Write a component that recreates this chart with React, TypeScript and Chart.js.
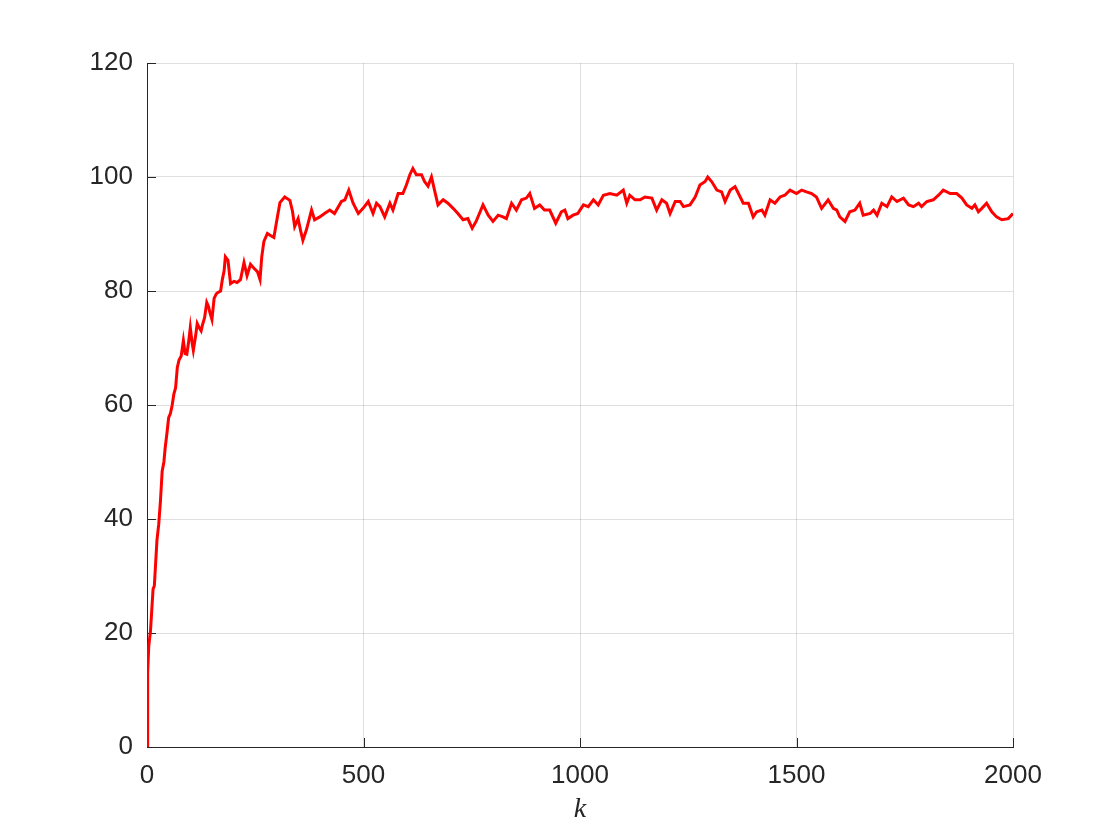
import React, { useEffect, useRef } from "react";
import { Chart, registerables } from "chart.js";

Chart.register(...registerables);

const kValues: number[] = [
  0, 1, 2, 4, 6, 8, 11, 14, 17, 19, 23, 27, 31, 35, 39, 42, 46, 50, 54, 58, 62, 66, 70, 74, 79, 84, 88, 92, 96,
  100, 104, 107, 112, 116, 121, 125, 128, 133, 138, 142, 145, 150, 155, 160, 163, 170, 174, 178, 181, 187, 193,
  201, 208, 216, 224, 231, 239, 247, 255, 261, 265, 270, 278, 286, 293, 300, 307, 318, 330, 336, 341, 349, 355,
  360, 368, 380, 387, 399, 410, 422, 433, 449, 457, 466, 476, 488, 499, 511, 522, 530, 538, 549, 561, 568, 580,
  591, 599, 607, 614, 622, 634, 641, 649, 657, 664, 672, 684, 695, 707, 718, 730, 741, 751, 760, 776, 788, 799,
  811, 822, 830, 842, 853, 865, 876, 884, 895, 907, 918, 930, 944, 957, 965, 972, 984, 995, 1000, 1008, 1019,
  1031, 1042, 1054, 1069, 1085, 1100, 1108, 1115, 1127, 1139, 1150, 1166, 1177, 1189, 1200, 1208, 1220, 1231,
  1239, 1254, 1266, 1277, 1289, 1295, 1304, 1316, 1327, 1335, 1347, 1358, 1366, 1377, 1389, 1400, 1408, 1420,
  1427, 1439, 1450, 1462, 1473, 1485, 1500, 1512, 1523, 1535, 1546, 1558, 1573, 1585, 1593, 1600, 1612, 1623,
  1635, 1646, 1654, 1670, 1678, 1686, 1697, 1709, 1720, 1732, 1747, 1759, 1770, 1782, 1789, 1801, 1816, 1828,
  1839, 1855, 1870, 1882, 1893, 1905, 1912, 1920, 1928, 1939, 1951, 1962, 1974, 1989, 2000,
];

const seriesValues: number[] = [
  0, 8, 13, 17.6, 19, 20.3, 24, 27.7, 28.3, 31, 36.3, 39, 43.1, 48.4, 50, 52.5, 55, 57.8, 58.5, 59.9, 61.9, 63,
  66.6, 67.9, 68.6, 71.3, 69, 68.9, 71, 73.6, 71, 69.6, 72, 74.3, 73.5, 73.0, 74, 75.3, 78.0, 77.3, 76.3, 75.0,
  78.7, 79.5, 79.7, 80.0, 82.0, 83.5, 86.0, 85.4, 81.3, 81.7, 81.5, 82.0, 85.0, 82.7, 84.7, 84.0, 83.4, 82.0, 86,
  88.7, 90.1, 89.7, 89.4, 92.5, 95.5, 96.5, 95.9, 94, 91.3, 92.7, 90.5, 88.9, 90.7, 94.2, 92.5, 93.0, 93.6, 94.2,
  93.6, 95.7, 96.0, 97.7, 95.4, 93.6, 94.5, 95.7, 93.6, 95.4, 94.8, 93.0, 95.4, 94.2, 97.1, 97.1, 98.6, 100.4,
  101.5, 100.4, 100.4, 99.2, 98.4, 100.0, 97.7, 95.1, 96.0, 95.4, 94.5, 93.6, 92.5, 92.7, 91.0, 92.2, 95.1, 93.3,
  92.2, 93.3, 93.0, 92.7, 95.4, 94.2, 96.0, 96.3, 97.1, 94.5, 95.1, 94.2, 94.2, 91.9, 93.9, 94.2, 92.7, 93.3, 93.6,
  94.2, 95.1, 94.8, 96.0, 95.1, 96.8, 97.1, 96.8, 97.7, 95.4, 96.8, 96.0, 96.0, 96.5, 96.3, 94.2, 96.0, 95.4, 93.6,
  95.7, 95.7, 94.8, 95.1, 96.5, 98.6, 99.2, 100.0, 99.2, 97.7, 97.4, 95.7, 97.7, 98.3, 97.1, 95.4, 95.4, 93.0,
  93.9, 94.2, 93.3, 96.0, 95.4, 96.5, 96.8, 97.7, 97.1, 97.7, 97.4, 97.1, 96.5, 94.5, 96.0, 94.5, 94.2, 93.0, 92.2,
  93.9, 94.2, 95.4, 93.3, 93.6, 94.2, 93.3, 95.4, 94.8, 96.5, 95.7, 96.3, 95.1, 94.8, 95.4, 94.8, 95.7, 96.0, 96.8,
  97.7, 97.1, 97.1, 96.3, 95.1, 94.5, 95.1, 93.9, 94.5, 95.4, 93.9, 93.0, 92.5, 92.7, 93.6,
];

const xTickValues: number[] = [0, 500, 1000, 1500, 2000];
const yTickValues: number[] = [0, 20, 40, 60, 80, 100, 120];
const xAxisTitle = "k";

const AXIS_COLOR = "#262626";
const GRID_COLOR = "rgba(38,38,38,0.15)";
const TICK_FONT = { family: "'Liberation Sans', Arial, sans-serif", size: 26 };

const inwardTicks = {
  id: "inwardTicks",
  beforeDatasetsDraw(chart: any) {
    const { ctx, chartArea, scales } = chart;
    const len = 9;
    ctx.save();
    ctx.strokeStyle = AXIS_COLOR;
    ctx.lineWidth = 1;
    ctx.beginPath();
    for (const v of yTickValues) {
      const y = Math.round(scales.y.getPixelForValue(v)) + 0.5;
      ctx.moveTo(chartArea.left, y);
      ctx.lineTo(chartArea.left + len, y);
    }
    for (const v of xTickValues) {
      const x = Math.round(scales.x.getPixelForValue(v)) + 0.5;
      ctx.moveTo(x, chartArea.bottom);
      ctx.lineTo(x, chartArea.bottom - len);
    }
    ctx.stroke();
    ctx.restore();
  },
};

export default function App() {
  const canvasRef = useRef<HTMLCanvasElement | null>(null);

  useEffect(() => {
    if (!canvasRef.current) return;
    const points = kValues.map((k, i) => ({ x: k, y: seriesValues[i] }));
    const chart = new Chart(canvasRef.current, {
      type: "line",
      data: {
        datasets: [
          {
            data: points,
            borderColor: "#ff0000",
            borderWidth: 3,
            pointRadius: 0,
            tension: 0,
            fill: false,
          },
        ],
      },
      options: {
        responsive: false,
        animation: false,
        events: [],
        layout: { padding: { left: 0, top: 63, right: 107, bottom: 0 } },
        plugins: {
          legend: { display: false },
          tooltip: { enabled: false },
        },
        scales: {
          x: {
            type: "linear",
            min: 0,
            max: 2000,
            afterFit: (scale: any) => {
              scale.height = 93;
            },
            afterBuildTicks: (scale: any) => {
              scale.ticks = xTickValues.map((v) => ({ value: v }));
            },
            ticks: {
              padding: 13,
              color: AXIS_COLOR,
              font: TICK_FONT,
              maxRotation: 0,
              callback: (v: any) => String(v),
            },
            grid: { color: GRID_COLOR, lineWidth: 1, drawTicks: false },
            border: { display: true, color: AXIS_COLOR, width: 1 },
            title: {
              display: true,
              text: xAxisTitle,
              color: AXIS_COLOR,
              font: { family: "'Liberation Serif', 'Times New Roman', serif", size: 28, style: "italic" },
              padding: { top: 0, bottom: 14 },
            },
          },
          y: {
            type: "linear",
            min: 0,
            max: 120,
            afterFit: (scale: any) => {
              scale.width = 147;
            },
            afterBuildTicks: (scale: any) => {
              scale.ticks = yTickValues.map((v) => ({ value: v }));
            },
            ticks: {
              padding: 14,
              color: AXIS_COLOR,
              font: TICK_FONT,
              callback: (v: any) => String(v),
            },
            grid: { color: GRID_COLOR, lineWidth: 1, drawTicks: false },
            border: { display: true, color: AXIS_COLOR, width: 1 },
          },
        },
      },
      plugins: [inwardTicks],
    });
    return () => chart.destroy();
  }, []);

  return (
    <div style={{ position: "absolute", left: 0, top: 0, width: 1120, height: 840, background: "#ffffff" }}>
      <canvas ref={canvasRef} width={1120} height={840} style={{ width: 1120, height: 840 }} />
    </div>
  );
}
